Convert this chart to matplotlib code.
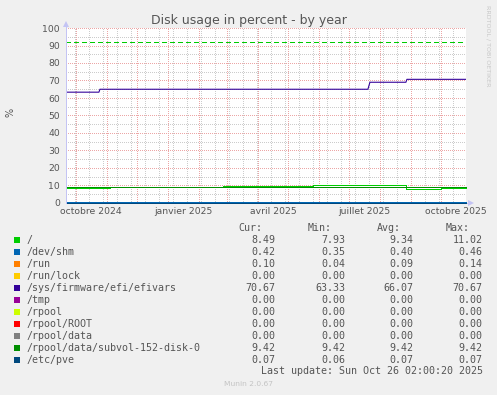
import datetime as dt
import numpy as np
import matplotlib
matplotlib.use("Agg")
import matplotlib.pyplot as plt
import matplotlib.dates as mdates
from matplotlib.patches import Rectangle, Polygon

W, H, DPI = 497, 395, 100

# ---------------- data ----------------
title = "Disk usage in percent - by year"
series_names = ["/", "/dev/shm", "/run", "/run/lock", "/sys/firmware/efi/efivars",
                "/tmp", "/rpool", "/rpool/ROOT", "/rpool/data",
                "/rpool/data/subvol-152-disk-0", "/etc/pve"]
series_colors = ["#00CC00", "#0066B3", "#FF8000", "#FFCC00", "#330099",
                 "#990099", "#CCFF00", "#FF0000", "#808080", "#008F00", "#00487D"]
cur_vals = [8.49, 0.42, 0.10, 0.00, 70.67, 0.00, 0.00, 0.00, 0.00, 9.42, 0.07]
min_vals = [7.93, 0.35, 0.04, 0.00, 63.33, 0.00, 0.00, 0.00, 0.00, 9.42, 0.06]
avg_vals = [9.34, 0.40, 0.09, 0.00, 66.07, 0.00, 0.00, 0.00, 0.00, 9.42, 0.07]
max_vals = [11.02, 0.46, 0.14, 0.00, 70.67, 0.00, 0.00, 0.00, 0.00, 9.42, 0.07]

period_start = "2024-09-21 02:00"
period_end = "2025-10-26 02:00"

root_dates = ["2024-09-21 02:00", "2024-11-04", "2025-02-25", "2025-05-26",
              "2025-08-27", "2025-10-01", "2025-10-26 02:00"]
root_values = [8.50, 9.40, 9.85, 10.10, 7.95, 8.49, 8.49]

efivars_dates = ["2024-09-21 02:00", "2024-10-24", "2024-10-25", "2025-07-20",
                 "2025-07-22", "2025-08-27", "2025-08-28", "2025-10-26 02:00"]
efivars_values = [63.33, 63.33, 65.00, 65.00, 69.00, 69.00, 70.67, 70.67]

warning_level = 92.0

xtick_dates = ["2024-10-16", "2025-01-16", "2025-04-16", "2025-07-16", "2025-10-16"]
xtick_labels = ["octobre 2024", "janvier 2025", "avril 2025", "juillet 2025", "octobre 2025"]
y_ticks = [0, 10, 20, 30, 40, 50, 60, 70, 80, 90, 100]
last_update = "Last update: Sun Oct 26 02:00:20 2025"
version = "Munin 2.0.67"
watermark = "RRDTOOL / TOBI OETIKER"

# ---------------- helpers ----------------
def d(s):
    return np.datetime64(s.replace(" ", "T"))

t0, t1 = d(period_start), d(period_end)

fig = plt.figure(figsize=(W / DPI, H / DPI), dpi=DPI, facecolor="#F0F0F0")
ax = fig.add_axes([66 / W, 1 - 203 / H, 400 / W, 175 / H])
ax.set_facecolor("white")
ax.set_xlim(mdates.date2num(t0), mdates.date2num(t1))
ax.set_ylim(0, 100)
for s in ax.spines.values():
    s.set_visible(False)

TXT = "#555555"
PX = 0.72  # one pixel in points

# grid (dotted, pixel aligned)
minor_col = "#cccccc"
major_col = "#eca6a6"
gkw = dict(lw=PX, ls=(0, (1, 1.2)), antialiased=False, snap=True)
for yv in np.arange(5, 100, 10):
    ax.axhline(yv, color=minor_col, zorder=1, **gkw)
gray_days = np.arange(np.datetime64("2024-09-30"), t1, np.timedelta64(14, "D"))
for gd in gray_days:
    ax.axvline(mdates.date2num(gd), color=minor_col, zorder=1, **gkw)
month_starts = np.arange(np.datetime64("2024-10"), np.datetime64("2025-11"),
                         np.timedelta64(1, "M")).astype("datetime64[D]")
for ms in month_starts:
    ax.axvline(mdates.date2num(ms), color=major_col, zorder=2, **gkw)
for yv in y_ticks[1:]:
    ax.axhline(yv, color=major_col, zorder=2, **gkw)

# data lines
lkw = dict(lw=PX, zorder=5, clip_on=False, solid_capstyle="butt",
           antialiased=False, snap=True)
for i, name in enumerate(series_names):
    col = series_colors[i]
    if name == "/":
        xs = [mdates.date2num(d(s)) for s in root_dates]
        ax.plot(xs, root_values, color=col, drawstyle="steps-post", **lkw)
    elif name == "/sys/firmware/efi/efivars":
        xs = [mdates.date2num(d(s)) for s in efivars_dates]
        ax.plot(xs, efivars_values, color=col, lw=PX * 1.1, zorder=5,
                solid_capstyle="butt", antialiased=True)
    else:
        xs = [mdates.date2num(t0), mdates.date2num(t1)]
        ax.plot(xs, [cur_vals[i], cur_vals[i]], color=col, **lkw)

ax.axhline(warning_level, color="#00CC00", lw=PX, ls=(0, (5, 4)), zorder=4,
           antialiased=False, snap=True)

# ticks
ax.set_yticks(y_ticks)
ax.set_yticklabels([str(v) for v in y_ticks])
ax.set_xticks([mdates.date2num(d(s)) for s in xtick_dates])
ax.set_xticklabels(xtick_labels)
ax.tick_params(axis="both", length=0, labelsize=6.7, colors=TXT)
ax.tick_params(axis="y", pad=4.3)
ax.tick_params(axis="x", pad=2.6)
for lab in ax.get_xticklabels() + ax.get_yticklabels():
    lab.set_family("DejaVu Sans")

# overlay in pixel coordinates
ov = fig.add_axes([0, 0, 1, 1], zorder=10)
ov.set_xlim(0, W)
ov.set_ylim(H, 0)
ov.axis("off")
ov.patch.set_alpha(0)

axis_col = "#c4c4f4"
ov.plot([66, 66], [203, 27], color=axis_col, lw=PX, zorder=3)
ov.add_patch(Polygon([[63, 27], [69, 27], [66, 21]], closed=True, color=axis_col, lw=0))
ov.plot([467, 468], [203, 203], color=axis_col, lw=PX, zorder=1)
ov.add_patch(Polygon([[468, 200], [468, 206], [474, 203]], closed=True, color=axis_col, lw=0))

ov.text(248.5, 24, title, ha="center", va="baseline", fontsize=9, color=TXT,
        family="DejaVu Sans")
ov.text(10, 112, "%", ha="center", va="center", rotation=90, fontsize=7,
        color=TXT, family="DejaVu Sans")
ov.text(488, 5, watermark, ha="center", va="top", rotation=-90, fontsize=4.6,
        color="#c8c8c8", family="DejaVu Sans")

# legend
MONO = "DejaVu Sans Mono"
FS = 7.2
hdr_y = 228.3
ov.text(262.7, hdr_y, "Cur:", ha="right", va="center", fontsize=FS, color=TXT, family=MONO)
ov.text(332.0, hdr_y, "Min:", ha="right", va="center", fontsize=FS, color=TXT, family=MONO)
ov.text(401.0, hdr_y, "Avg:", ha="right", va="center", fontsize=FS, color=TXT, family=MONO)
ov.text(470.0, hdr_y, "Max:", ha="right", va="center", fontsize=FS, color=TXT, family=MONO)
for i, name in enumerate(series_names):
    yy = 239.6 + 12 * i
    ov.add_patch(Rectangle((14, yy - 3), 6, 6, facecolor=series_colors[i], edgecolor="none"))
    ov.text(26.3, yy, name, ha="left", va="center", fontsize=FS, color=TXT, family=MONO)
    ov.text(275.0, yy, f"{cur_vals[i]:.2f}", ha="right", va="center", fontsize=FS, color=TXT, family=MONO)
    ov.text(345.0, yy, f"{min_vals[i]:.2f}", ha="right", va="center", fontsize=FS, color=TXT, family=MONO)
    ov.text(413.7, yy, f"{avg_vals[i]:.2f}", ha="right", va="center", fontsize=FS, color=TXT, family=MONO)
    ov.text(482.7, yy, f"{max_vals[i]:.2f}", ha="right", va="center", fontsize=FS, color=TXT, family=MONO)
ov.text(482.7, 371.3, last_update, ha="right", va="center", fontsize=FS, color=TXT, family=MONO)
ov.text(248, 384.5, version, ha="center", va="center", fontsize=5.4, color="#c4c4c4",
        family="DejaVu Sans")

fig.savefig("out.png", dpi=DPI, facecolor=fig.get_facecolor())
